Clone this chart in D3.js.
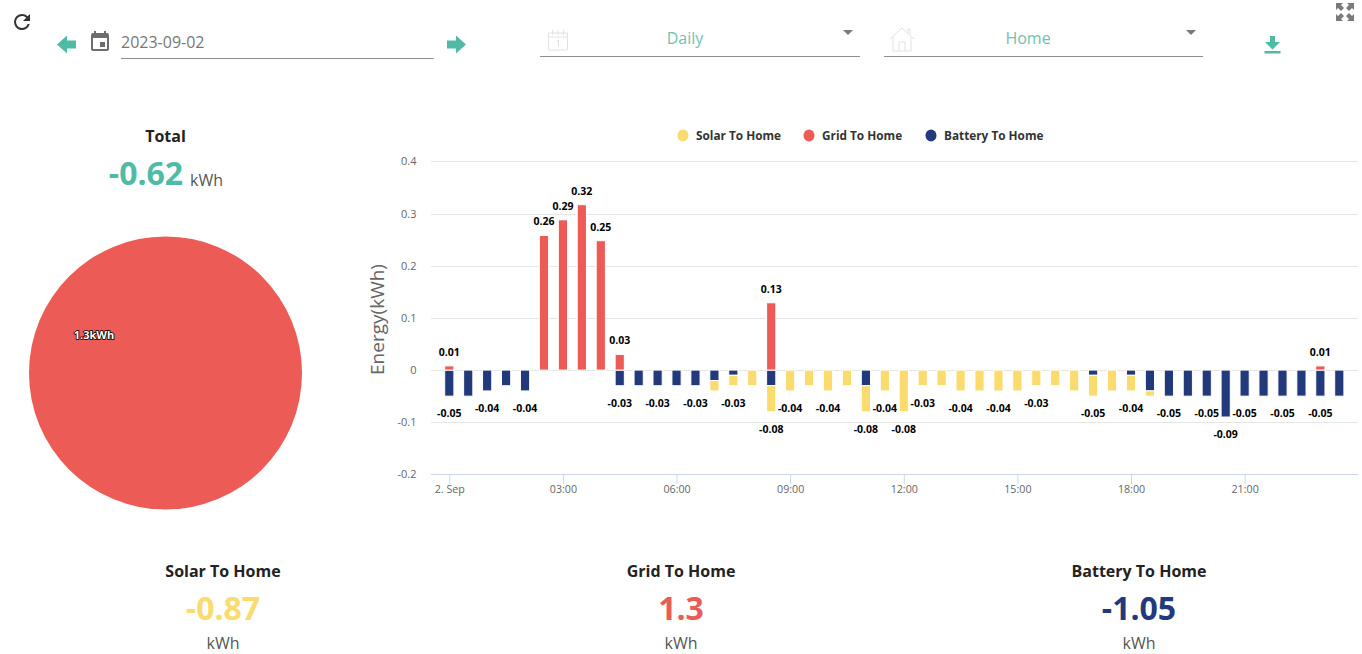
<!DOCTYPE html>
<html lang="en">
  <head>
    <title>Energy</title>
    <script src="https://cdn.jsdelivr.net/npm/d3@7"></script>
    <style>
      body { margin: 0; background: white; overflow: hidden; }
      text { font-family: "Open Sans", sans-serif; }
    </style>
  </head>

  <body>
    <div id="container"></div>

<script>
    // half hour slots of the day, 00:00 .. 23:30
    const slots = d3.range(48);

    const solar = [0,0,0,0,0,0,0,0,0,0,0,0,0,0,-0.02,-0.02,-0.03,-0.05,-0.04,-0.03,-0.04,-0.03,-0.05,-0.04,
                   -0.08,-0.03,-0.03,-0.04,-0.04,-0.04,-0.04,-0.03,-0.03,-0.04,-0.04,-0.04,-0.03,-0.01,0,0,0,0,0,0,0,0,0,0];
    const grid = [0.008,0,0,0,0,0.258,0.288,0.317,0.248,0.03,0,0,0,0,0,0,0,0.129,0,0,0,0,0,0,
                  0,0,0,0,0,0,0,0,0,0,0,0,0,0,0,0,0,0,0,0,0,0,0.008,0];
    const battery = [-0.05,-0.05,-0.04,-0.03,-0.04,0,0,0,0,-0.03,-0.03,-0.03,-0.03,-0.03,-0.02,-0.01,0,-0.03,0,0,0,0,-0.03,0,
                     0,0,0,0,0,0,0,0,0,0,-0.01,0,-0.01,-0.04,-0.05,-0.05,-0.05,-0.09,-0.05,-0.05,-0.05,-0.05,-0.05,-0.05];

    // the chart hides stack labels that would collide, these are the ones left
    const positiveLabels = [0, 5, 6, 7, 8, 9, 17, 46];
    const negativeLabels = [0, 2, 4, 9, 11, 13, 15, 17, 18, 20, 22, 23, 24, 25, 27, 29, 31, 34, 36, 38, 40, 41, 42, 44, 46];

    const yTicks = [-0.2, -0.1, 0, 0.1, 0.2, 0.3, 0.4];
    const xTicks = [0, 3, 6, 9, 12, 15, 18, 21];
    const xTickLabels = ["2. Sep", "03:00", "06:00", "09:00", "12:00", "15:00", "18:00", "21:00"];

    const seriesNames = ["Solar To Home", "Grid To Home", "Battery To Home"];
    const seriesTotals = [-0.87, 1.3, -1.05];
    const total = -0.62;

    const colors = {"Solar To Home": "#f9db6e", "Grid To Home": "#ec5b55", "Battery To Home": "#223a7b"};
    const teal = "#4fbba6";

    const svg = d3.select("#container").append("svg").attr("width", 1362).attr("height", 654).style("display", "block");

    // scales
    const x = d3.scaleLinear().domain([0, 23.5]).range([449.3, 1339.3]);
    const y = d3.scaleLinear().domain([-0.2, 0.4]).range([474.4, 161.4]);
    const plotLeft = 431, plotRight = 1358;
    const barWidth = 9.2;
    const crisp = v => Math.round(v) + 0.5;

    // grid lines
    svg.append("g").selectAll("line").data(yTicks.filter(d => d !== -0.2)).enter().append("line")
      .attr("x1", plotLeft).attr("x2", plotRight)
      .attr("y1", d => crisp(y(d))).attr("y2", d => crisp(y(d)))
      .attr("stroke", "#e6e6e6");

    // axes
    const xAxis = svg.append("g").attr("transform", `translate(0, ${crisp(y(-0.2)) - 0.5})`)
      .call(d3.axisBottom(x).tickValues(xTicks).tickSize(10).tickPadding(1).tickFormat((d, i) => xTickLabels[i]));
    xAxis.select(".domain").attr("d", `M${plotLeft},0.5H${plotRight}`).attr("stroke", "#ccd6eb");
    xAxis.selectAll("line").attr("stroke", "#ccd6eb");
    xAxis.selectAll("text").attr("fill", "#666666").style("font-size", "10.7px").style("font-family", '"Open Sans", sans-serif');

    svg.append("g").selectAll("text").data(yTicks).enter().append("text")
      .attr("x", 416.5).attr("y", d => y(d) + 4)
      .attr("text-anchor", "end").attr("fill", "#666666").style("font-size", "11px")
      .text(d => d);

    svg.append("text").attr("transform", "translate(384, 319.5) rotate(-90)")
      .attr("text-anchor", "middle").attr("fill", "#666666").style("font-size", "19px")
      .text("Energy(kWh)");

    // bars, battery sits next to zero and solar stacks below it
    const bars = svg.append("g");
    const stackBar = (values, base, name) => {
      bars.selectAll("rect." + name.split(" ")[0]).data(slots.filter(i => values[i] !== 0)).enter().append("rect")
        .attr("class", name.split(" ")[0])
        .attr("x", i => x(i / 2) - barWidth / 2)
        .attr("width", barWidth)
        .attr("y", i => Math.min(y(base[i]), y(base[i] + values[i])))
        .attr("height", i => Math.abs(y(base[i] + values[i]) - y(base[i])))
        .attr("fill", colors[name])
        .attr("stroke", "white").attr("stroke-width", 1);
    };
    stackBar(battery, slots.map(() => 0), "Battery To Home");
    stackBar(solar, battery, "Solar To Home");
    stackBar(grid, slots.map(() => 0), "Grid To Home");

    // stack labels
    const labelFormat = d => String(+d.toFixed(2));
    svg.append("g").selectAll("text").data(positiveLabels).enter().append("text")
      .attr("x", i => x(i / 2)).attr("y", i => y(grid[i]) - 10)
      .attr("text-anchor", "middle").attr("fill", "#000000")
      .style("font-size", "10.5px").style("font-weight", 700)
      .text(i => labelFormat(grid[i]));
    svg.append("g").selectAll("text").data(negativeLabels).enter().append("text")
      .attr("x", i => x(i / 2)).attr("y", i => y(solar[i] + battery[i]) + 21)
      .attr("text-anchor", "middle").attr("fill", "#000000")
      .style("font-size", "10.5px").style("font-weight", 700)
      .text(i => labelFormat(solar[i] + battery[i]));

    // legend
    const legendX = [683, 809, 931];
    const legend = svg.append("g").selectAll("g").data(seriesNames).enter().append("g")
      .attr("transform", (d, i) => `translate(${legendX[i]}, 135.5)`);
    legend.append("ellipse").attr("rx", 5.5).attr("ry", 6).attr("fill", d => colors[d]);
    legend.append("text").attr("x", 13).attr("y", 4.5).attr("fill", "#333333")
      .style("font-size", "11.8px").style("font-weight", 700).text(d => d);

    // pie, only the positive totals get a slice
    const pieData = d3.pie().sort(null)(seriesTotals.map(d => Math.max(d, 0)));
    const arc = d3.arc().innerRadius(0).outerRadius(136.5);
    const pie = svg.append("g").attr("transform", "translate(165.5, 373)");
    pie.selectAll("path").data(pieData).enter().append("path")
      .attr("d", arc).attr("fill", (d, i) => colors[seriesNames[i]]);
    pie.append("text").attr("x", -71.5).attr("y", -34)
      .attr("text-anchor", "middle").attr("fill", "white")
      .attr("stroke", "black").attr("stroke-width", 1.6).attr("paint-order", "stroke")
      .style("font-size", "11px").style("font-weight", 700)
      .text(seriesTotals[1] + "kWh");

    // total
    svg.append("text").attr("x", 165.5).attr("y", 142).attr("text-anchor", "middle")
      .attr("fill", "#222222").style("font-size", "16px").style("font-weight", 700).text("Total");
    svg.append("text").attr("x", 146).attr("y", 184.5).attr("text-anchor", "middle")
      .attr("fill", teal).style("font-size", "32px").style("font-weight", 700).text(total);
    svg.append("text").attr("x", 190).attr("y", 185.5)
      .attr("fill", "#555555").style("font-size", "16px").text("kWh");

    // bottom cards
    const cardX = [223, 681, 1139];
    const cards = svg.append("g").selectAll("g").data(seriesNames).enter().append("g")
      .attr("transform", (d, i) => `translate(${cardX[i]}, 0)`).attr("text-anchor", "middle");
    cards.append("text").attr("y", 577).attr("fill", "#222222")
      .style("font-size", "16px").style("font-weight", 700).text(d => d);
    cards.append("text").attr("y", 619.5).attr("fill", d => colors[d])
      .style("font-size", "32px").style("font-weight", 700).text((d, i) => seriesTotals[i]);
    cards.append("text").attr("y", 649).attr("fill", "#555555")
      .style("font-size", "16px").text("kWh");

    // toolbar
    const bar = svg.append("g");
    bar.append("text").attr("x", 121).attr("y", 48).attr("fill", "#777777").style("font-size", "16px").text("2023-09-02");
    bar.append("text").attr("x", 685).attr("y", 44).attr("text-anchor", "middle").attr("fill", "#6fc2b0").style("font-size", "16px").text("Daily");
    bar.append("text").attr("x", 1028).attr("y", 44).attr("text-anchor", "middle").attr("fill", "#6fc2b0").style("font-size", "16px").text("Home");

    const underlines = [[121, 434, 58.5], [540, 860, 56.5], [884, 1203, 56.5]];
    bar.selectAll("line").data(underlines).enter().append("line")
      .attr("x1", d => d[0]).attr("x2", d => d[1]).attr("y1", d => d[2]).attr("y2", d => d[2])
      .attr("stroke", "#8f8f8f");

    const icon = (transform, d, fill, stroke) => bar.append("path")
      .attr("transform", transform).attr("d", d)
      .attr("fill", fill || "none").attr("stroke", stroke || "none");

    // refresh
    icon("translate(10, 10)", "M17.65 6.35A7.96 7.96 0 0 0 12 4a8 8 0 1 0 7.73 10h-2.08A6 6 0 1 1 12 6c1.66 0 3.14.69 4.22 1.78L13 11h7V4l-2.35 2.35z", "#333333");
    // arrows
    icon("translate(57, 35.5)", "M0 9L10 0V5H19V13H10V18Z", teal);
    icon("translate(447, 35.5)", "M19 9L9 0V5H0V13H9V18Z", teal);
    // date icon
    icon("translate(88, 29) scale(1)", "M17 13h-5v5h5v-5zM16 2v2H8V2H6v2H5a2 2 0 0 0-2 2v14a2 2 0 0 0 2 2h14a2 2 0 0 0 2-2V6a2 2 0 0 0-2-2h-1V2h-2zm3 18H5V9h14v11z", "#6d6d6d");
    // dropdown carets
    icon("translate(843, 30)", "M0 0H10L5 5Z", "#7a7a7a");
    icon("translate(1186, 30)", "M0 0H10L5 5Z", "#7a7a7a");
    // pale calendar
    icon("translate(547.5, 29)", "M1 4H20V20Q20 21 19 21H2Q1 21 1 20ZM1 8H20M5 1V6M10.5 1V6M16 1V6M9.5 12L11 11V18", null, "#e2e2e2");
    // pale house
    icon("translate(890, 27)", "M0 12L12 1L24 12M3 10V24H21V10M9 24V15H15V24M18 6V2H20V8", null, "#e2e2e2");
    // download
    icon("translate(1264, 36)", "M6 0H11V6H16L8.5 13.5L1 6H6ZM0.5 15H16.5V17.5H0.5Z", teal);
    // fullscreen corners
    icon("translate(1336, 3)", "M0 0H7L5 2L8 5L5 8L2 5L0 7ZM18 0H11L13 2L10 5L13 8L16 5L18 7ZM0 18H7L5 16L8 13L5 10L2 13L0 11ZM18 18H11L13 16L10 13L13 10L16 13L18 11Z", "#7a7a7a");
</script>
  </body>
</html>
